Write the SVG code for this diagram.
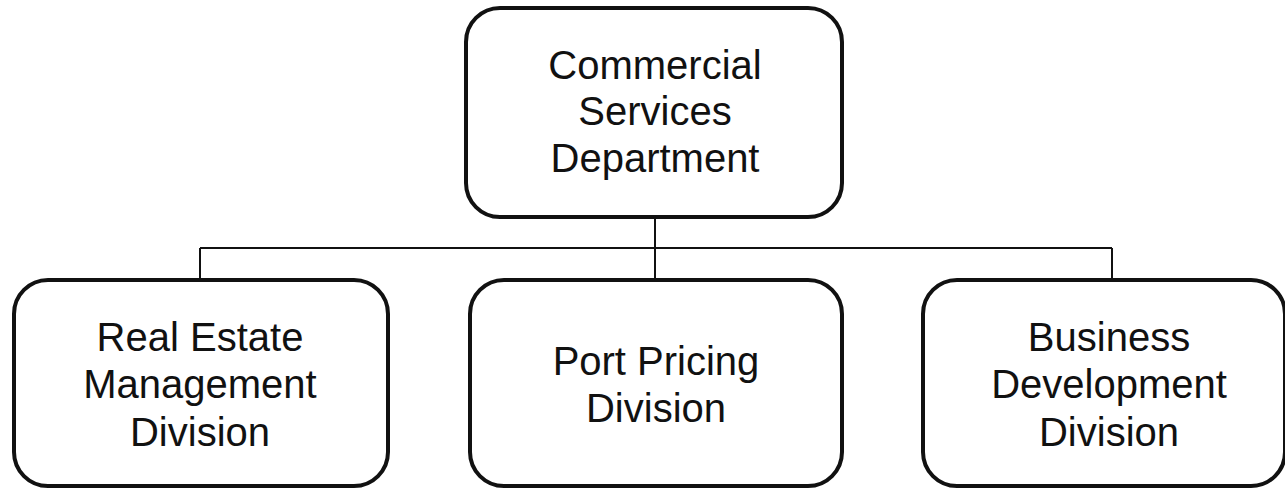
<svg xmlns="http://www.w3.org/2000/svg" width="1285" height="489" viewBox="0 0 1285 489">
<style>
.box{fill:#fff;stroke:#111;stroke-width:4}
.lbl{font-family:"Liberation Sans",Arial,sans-serif;font-size:40px;fill:#111;text-anchor:middle}
.conn{fill:none;stroke:#111;stroke-width:2}
</style>
<rect width="1285" height="489" fill="#fff"/>
<g id="connectors">
<path class="conn" d="M655 218V248M200 248H1112M200 248V279M655 248V279M1112 248V279"/>
</g>
<g id="n-csd">
<rect class="box" x="466" y="8" width="376" height="209" rx="34"/>
<text class="lbl" x="655" y="79">Commercial</text>
<text class="lbl" x="655" y="125">Services</text>
<text class="lbl" x="655" y="172">Department</text>
</g>
<g id="n-rem">
<rect class="box" x="14" y="280" width="374" height="206" rx="34"/>
<text class="lbl" x="200" y="351">Real Estate</text>
<text class="lbl" x="200" y="398">Management</text>
<text class="lbl" x="200" y="446">Division</text>
</g>
<g id="n-ppd">
<rect class="box" x="470" y="280" width="372" height="206" rx="34"/>
<text class="lbl" x="656" y="375">Port Pricing</text>
<text class="lbl" x="656" y="422">Division</text>
</g>
<g id="n-bdd">
<rect class="box" x="923" y="280" width="362" height="206" rx="34"/>
<text class="lbl" x="1109" y="351">Business</text>
<text class="lbl" x="1109" y="398">Development</text>
<text class="lbl" x="1109" y="446">Division</text>
</g>
</svg>
